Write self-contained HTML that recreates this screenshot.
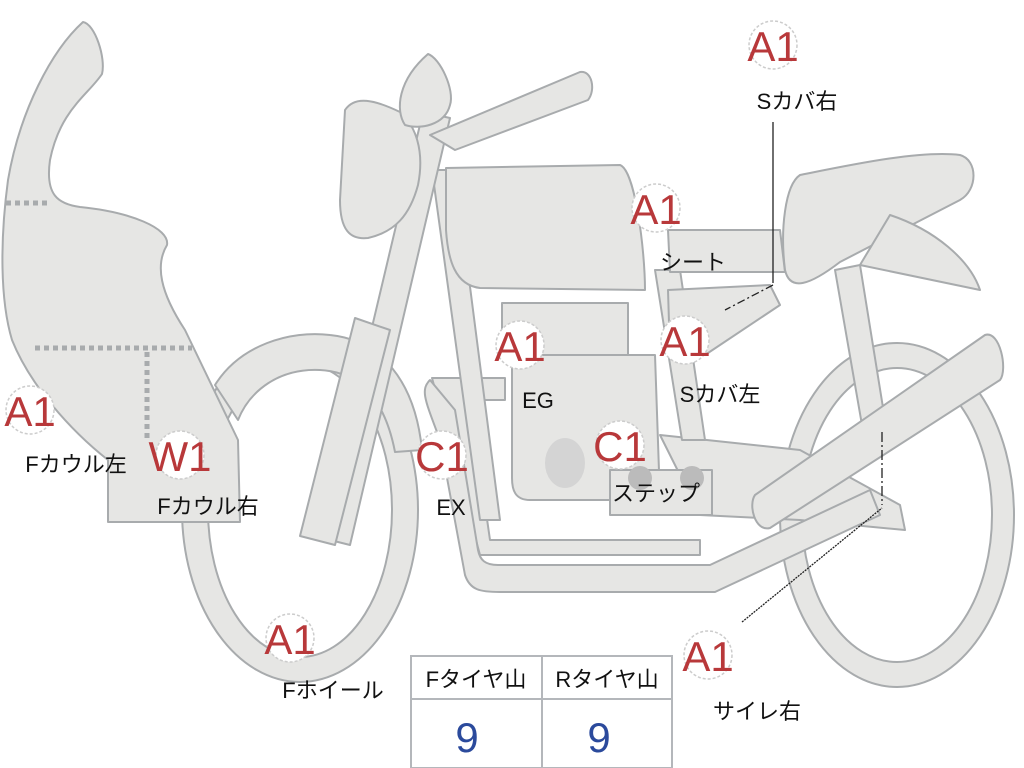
<!DOCTYPE html>
<html><head><meta charset="utf-8"><style>
html,body{margin:0;padding:0;background:#fff;width:1024px;height:768px;overflow:hidden}
svg{display:block}
text{font-family:"Liberation Sans","Noto Sans CJK JP",sans-serif}
.b{fill:#fff;stroke:#ccc;stroke-width:1.5;stroke-dasharray:3 2}
.r{fill:#b8383a;font-size:42px;text-anchor:middle}
.l{fill:#111;font-size:22px;text-anchor:middle}
.p{fill:#e6e6e4;stroke:#a8abad;stroke-width:2;stroke-linejoin:round}
</style></head><body>
<svg width="1024" height="768" viewBox="0 0 1024 768">
<!-- rear wheel -->
<path class="p" fill-rule="evenodd" d="M780,515 a117,172 0 1,0 234,0 a117,172 0 1,0 -234,0 Z M802,515 a95,147 0 1,0 190,0 a95,147 0 1,0 -190,0 Z"/>
<!-- front wheel -->
<path class="p" fill-rule="evenodd" d="M182,510 a118,172 0 1,0 236,0 a118,172 0 1,0 -236,0 Z M208,510 a92,147 0 1,0 184,0 a92,147 0 1,0 -184,0 Z"/>
<!-- front fender -->
<path class="p" d="M215,385 C240,345 290,330 330,335 C380,340 415,380 422,450 L395,452 C385,400 360,372 320,370 C280,368 250,390 238,420 Z"/>
<!-- rear frame / swingarm lower -->
<path class="p" d="M660,435 L800,450 L900,505 L905,530 L800,520 L700,515 Z"/>
<path class="p" d="M835,270 L860,265 L885,420 L862,425 Z"/>
<!-- exhaust pipes -->
<path class="p" d="M432,378 L505,378 L505,400 L470,400 L490,540 L700,540 L700,555 L480,555 Z"/>
<path class="p" d="M430,380 C420,390 425,400 440,440 L465,575 C470,590 480,592 500,592 L715,592 L880,515 L870,490 L710,565 L498,565 C485,565 480,560 478,550 L455,410 Z"/>
<!-- frame downtubes -->
<path class="p" d="M432,170 L455,170 L500,520 L480,520 Z"/>
<path class="p" d="M655,270 L680,270 L705,440 L682,440 Z"/>
<!-- engine -->
<path class="p" d="M502,303 L628,303 L628,355 L502,355 Z"/>
<path class="p" d="M512,355 L655,355 L660,500 L530,500 C515,500 512,490 512,478 Z"/>
<ellipse cx="565" cy="463" rx="20" ry="25" fill="#d4d4d4"/>
<path class="p" d="M610,470 L712,470 L712,515 L610,515 Z"/>
<circle cx="640" cy="478" r="12" fill="#bbb"/><circle cx="692" cy="478" r="12" fill="#bbb"/>
<!-- fork -->
<path class="p" d="M423,112 L450,118 L350,545 L322,538 Z"/>
<path class="p" d="M355,318 L390,330 L335,545 L300,536 Z"/>
<!-- handlebar -->
<path class="p" d="M430,135 L580,72 C592,70 596,90 588,100 L455,150 Z"/>
<!-- headlight -->
<path class="p" d="M345,110 C355,95 375,100 400,112 C415,125 425,150 418,185 C410,215 395,232 368,238 C350,240 340,230 340,200 Z"/>
<path class="p" d="M428,54 C440,58 455,90 450,105 C445,125 420,130 405,125 C395,110 398,80 428,54 Z"/>
<!-- tank -->
<path class="p" d="M446,168 L620,165 C635,170 645,250 645,290 L480,288 C455,285 448,260 446,230 Z"/>
<!-- side cover / seat base -->
<path class="p" d="M668,230 L780,230 L785,272 L670,272 Z"/>
<path class="p" d="M668,290 L770,285 L780,305 L705,355 L670,355 Z"/>
<!-- seat -->
<path class="p" d="M800,175 C850,165 920,150 960,155 C978,160 978,190 960,200 L840,262 C810,285 790,292 785,270 C780,230 785,185 800,175 Z"/>
<path class="p" d="M890,215 C935,230 970,260 980,290 L860,265 Z"/>
<!-- shock / chain guard bar -->
<path class="p" d="M755,495 L985,335 C1000,330 1008,370 1000,380 L770,528 C755,532 748,505 755,495 Z"/>
<!-- fairing -->
<path class="p" d="M83,22 C95,24 106,58 102,74 C88,95 60,110 50,160 C45,195 58,204 80,207 C130,212 170,228 167,245 C155,265 160,292 185,330 L238,440 L240,522 L108,522 L108,460 C70,430 30,385 12,340 C0,300 0,240 8,180 C20,110 52,50 83,22 Z"/>
<g stroke="#a8abad" stroke-width="5" stroke-dasharray="5 4" fill="none">
<path d="M6,203 L50,203"/><path d="M35,348 L192,348"/><path d="M147,352 L147,440"/></g>
<!-- leaders -->
<g stroke="#222" stroke-width="1.3" fill="none">
<path d="M773,122 L773,283"/><path d="M773,285 L725,310" stroke-dasharray="8 3 2 3"/>
<path d="M882,432 L882,505" stroke-dasharray="10 3 2 3"/>
<path d="M742,622 L882,508" stroke-dasharray="2 1"/></g>
<!-- badges -->
<g>
<circle class="b" cx="773" cy="45" r="24"/><text class="r" x="773" y="61">A1</text><text class="l" x="797" y="109">Sカバ右</text>
<circle class="b" cx="656" cy="208" r="24"/><text class="r" x="656" y="224">A1</text><text class="l" x="693" y="270">シート</text>
<circle class="b" cx="520" cy="345" r="24"/><text class="r" x="520" y="361">A1</text><text class="l" x="538" y="408">EG</text>
<circle class="b" cx="685" cy="340" r="24"/><text class="r" x="685" y="356">A1</text><text class="l" x="720" y="402">Sカバ左</text>
<circle class="b" cx="620" cy="445" r="24"/><text class="r" x="620" y="461">C1</text><text class="l" x="656" y="501">ステップ</text>
<circle class="b" cx="442" cy="455" r="24"/><text class="r" x="442" y="471">C1</text><text class="l" x="451" y="515">EX</text>
<circle class="b" cx="30" cy="410" r="24"/><text class="r" x="30" y="426">A1</text><text class="l" x="76" y="472">Fカウル左</text>
<circle class="b" cx="180" cy="455" r="24"/><text class="r" x="180" y="471">W1</text><text class="l" x="208" y="514">Fカウル右</text>
<circle class="b" cx="290" cy="638" r="24"/><text class="r" x="290" y="654">A1</text><text class="l" x="333" y="698">Fホイール</text>
<circle class="b" cx="708" cy="655" r="24"/><text class="r" x="708" y="671">A1</text><text class="l" x="757" y="719">サイレ右</text>
</g>
<!-- table -->
<rect x="411" y="656" width="261" height="112" fill="#fff" stroke="#b4b7bb" stroke-width="2"/>
<line x1="411" y1="699" x2="672" y2="699" stroke="#b4b7bb" stroke-width="2"/>
<line x1="542" y1="656" x2="542" y2="768" stroke="#b4b7bb" stroke-width="2"/>
<text class="l" x="476" y="687">Fタイヤ山</text><text class="l" x="607" y="687">Rタイヤ山</text>
<text x="467" y="752" fill="#2b4a9c" font-size="42" text-anchor="middle">9</text>
<text x="599" y="752" fill="#2b4a9c" font-size="42" text-anchor="middle">9</text>
</svg>
</body></html>
